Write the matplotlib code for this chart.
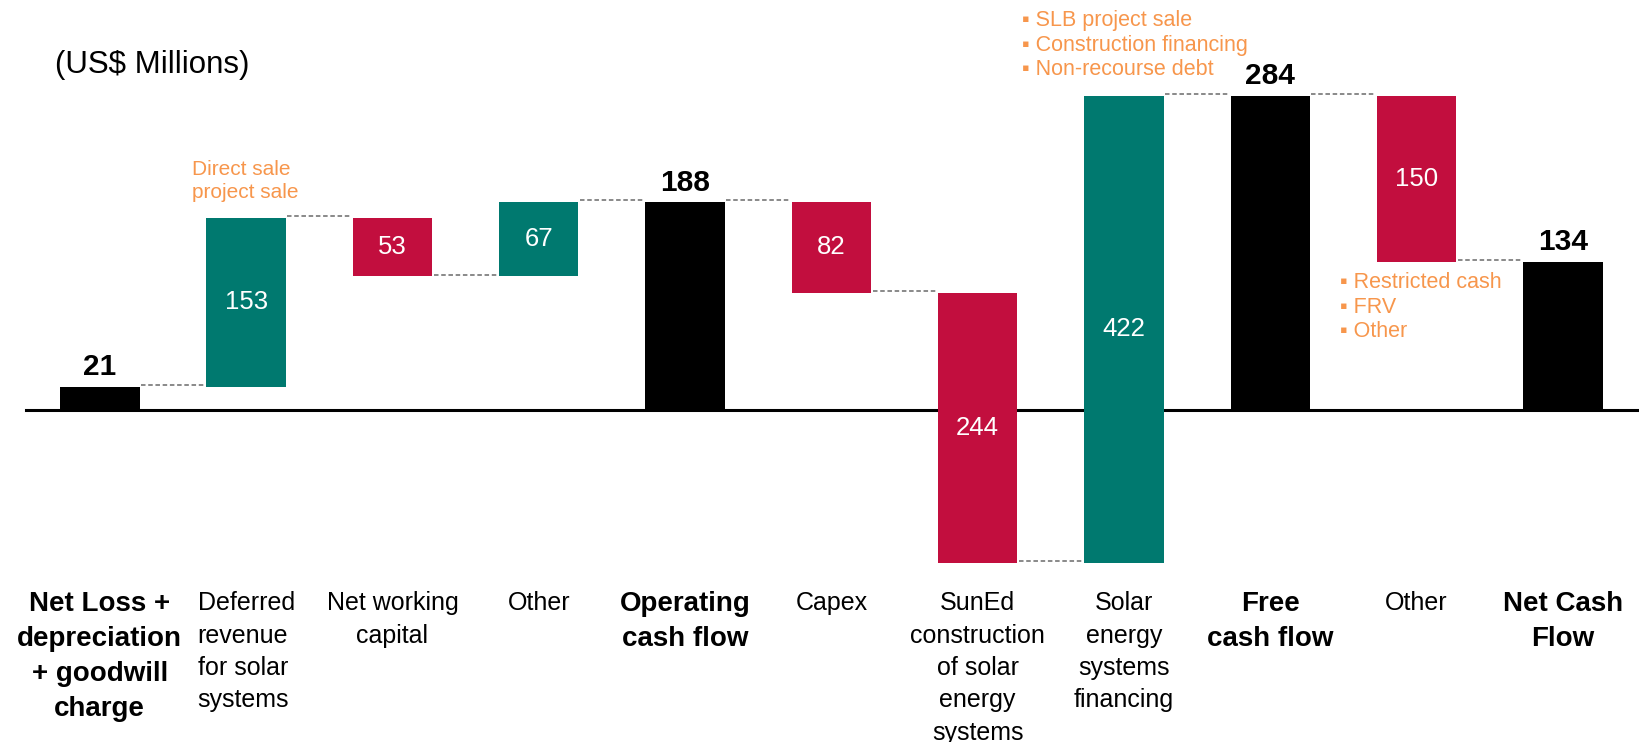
import numpy as np
import matplotlib.pyplot as plt

plt.rcParams['font.family'] = ['Liberation Sans', 'DejaVu Sans']

# cash flow bridge, US$ millions
categories = ['Net Loss +\ndepreciation\n+ goodwill\ncharge',
              'Deferred\nrevenue\nfor solar\nsystems',
              'Net working\ncapital',
              'Other',
              'Operating\ncash flow',
              'Capex',
              'SunEd\nconstruction\nof solar\nenergy\nsystems',
              'Solar\nenergy\nsystems\nfinancing',
              'Free\ncash flow',
              'Other',
              'Net Cash\nFlow']
values = [21, 153, -53, 67, 188, -82, -244, 422, 284, -150, 134]
is_total = [True, False, False, False, True, False, False, False, True, False, True]

top_notes = ['SLB project sale', 'Construction financing', 'Non-recourse debt']
other_notes = ['Restricted cash', 'FRV', 'Other']
deferred_note = 'Direct sale\nproject sale'

TEAL = '#00796F'
RED = '#C20E3E'
ORANGE = '#F7964C'
DASH = '#808080'

fig = plt.figure(figsize=(16.39, 7.42), dpi=100)
ax = fig.add_axes([0, 0, 1, 1])
ax.set_xlim(-0.682, 10.52)
ax.set_ylim(-300.2, 370.7)
ax.axis('off')

width = 0.543
x = np.arange(len(values))

# running level for the floating bars
bottoms, tops = [], []
level = 0
for v, tot in zip(values, is_total):
    if tot:
        level = v
        bottoms.append(0)
        tops.append(v)
    else:
        bottoms.append(level)
        level += v
        tops.append(level)
bottoms = np.array(bottoms)
tops = np.array(tops)

colors = []
for v, tot in zip(values, is_total):
    if tot:
        colors.append('black')
    elif v > 0:
        colors.append(TEAL)
    else:
        colors.append(RED)

ax.plot([-0.504, 10.52], [0, 0], color='black', lw=2.2, zorder=1)
ax.bar(x, tops - bottoms, bottom=bottoms, width=width, color=colors, zorder=2)

# dashed connectors between neighbouring bars
for i in range(len(values) - 1):
    lvl = tops[i]
    ax.plot([x[i] + width / 2 + 0.01, x[i + 1] - width / 2 - 0.01], [lvl + 1.5, lvl + 1.5],
            color=DASH, lw=1.3, ls=(0, (2.5, 1.5)), zorder=1)

# value labels
for i, (v, tot) in enumerate(zip(values, is_total)):
    if tot:
        ax.annotate(str(v), (x[i], tops[i]), xytext=(0, 4), textcoords='offset points',
                    ha='center', va='bottom', fontsize=21.5, fontweight='bold', color='black')
    else:
        mid = (tops[i] + bottoms[i]) / 2
        ax.text(x[i], mid, str(abs(v)), ha='center', va='center', fontsize=18.5, color='white')

# category labels under the axis
for i, lab in enumerate(categories):
    bold = is_total[i]
    ax.text(x[i], -164, lab, ha='center', va='top',
            multialignment='left' if i == 1 else 'center',
            fontsize=20 if bold else 18, fontweight='bold' if bold else 'normal',
            linespacing=1.45 if bold else 1.44, color='black')

ax.text(-0.306, 312, '(US$ Millions)', ha='left', va='center', fontsize=22.5, color='black')

ax.text(0.630, 207, deferred_note, ha='left', va='center', fontsize=15, color=ORANGE,
        linespacing=1.25)
ax.text(6.303, 330, '\n'.join('\u25aa ' + t for t in top_notes), ha='left', va='center',
        fontsize=15.5, color=ORANGE, linespacing=1.2)
ax.text(8.477, 93, '\n'.join('\u25aa ' + t for t in other_notes), ha='left', va='center',
        fontsize=15.5, color=ORANGE, linespacing=1.2)

fig.savefig('out.png', dpi=100)
